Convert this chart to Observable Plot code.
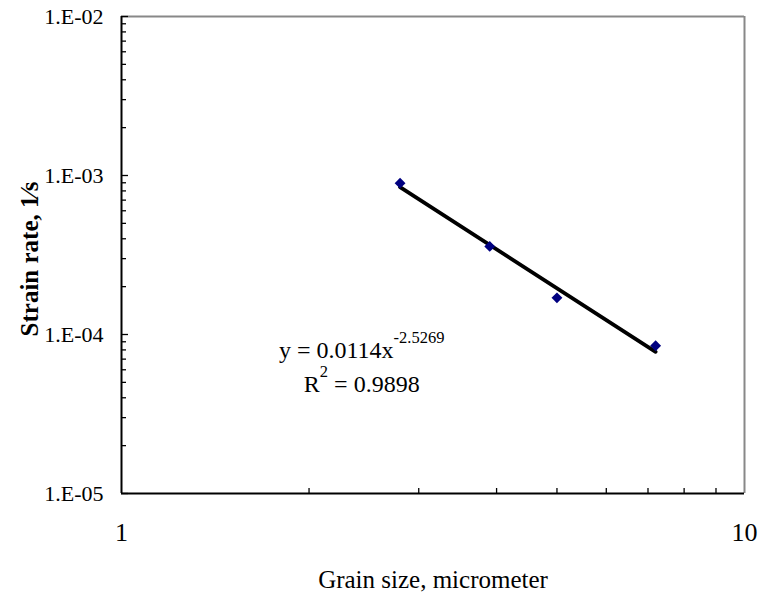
<!DOCTYPE html>
<html><head><meta charset="utf-8">
<script src="https://cdn.jsdelivr.net/npm/d3@7"></script>
<script src="https://cdn.jsdelivr.net/npm/@observablehq/plot@0.6"></script>
<style>body{margin:0;background:#fff}</style>
</head><body><div id="chart"></div>
<script>
const grainSize = [2.8, 3.9, 5.0, 7.2];
const strainRate = [8.95e-4, 3.58e-4, 1.70e-4, 8.5e-5];
const trendX = [2.8, 7.2];
const trendY = [8.45e-4, 7.78e-5];
const xDomain = [1, 10];
const yDomain = [1e-5, 1e-2];
const xTickValues = [1, 10];
const xTickLabels = ["1", "10"];
const yTickValues = [1e-5, 1e-4, 1e-3, 1e-2];
const yTickLabels = ["1.E-05", "1.E-04", "1.E-03", "1.E-02"];
const xMinor = [2, 3, 4, 5, 6, 7, 8, 9];
const yMinor = [2e-5, 3e-5, 4e-5, 5e-5, 6e-5, 7e-5, 8e-5, 9e-5,
                2e-4, 3e-4, 4e-4, 5e-4, 6e-4, 7e-4, 8e-4, 9e-4,
                2e-3, 3e-3, 4e-3, 5e-3, 6e-3, 7e-3, 8e-3, 9e-3];
const xTitle = "Grain size, micrometer";
const yTitle = "Strain rate, 1\u2044s";
const fitLabelX = [2.43, 2.43];
const fitLabelY = [8.0e-5, 4.83e-5];
const fitLabelText = ["y = 0.0114x^-2.5269", "R^2 = 0.9898"];

const W = 760, H = 593, mT = 16, mL = 121, mR = 16, mB = 100;
const iW = W - mL - mR, iH = H - mT - mB;

const points = grainSize.map((x, i) => ({x, y: strainRate[i]}));
const trend = trendX.map((x, i) => ({x, y: trendY[i]}));
const fitLabels = fitLabelText.map((t, i) => ({x: fitLabelX[i], y: fitLabelY[i], t}));

const font = "'Liberation Serif', 'Times New Roman', serif";

const chart = Plot.plot({
  width: W, height: H,
  marginTop: mT, marginLeft: mL, marginRight: mR, marginBottom: mB,
  style: {fontFamily: font, fontSize: "20px", color: "black", background: "white", overflow: "visible"},
  x: {type: "log", domain: xDomain},
  y: {type: "log", domain: yDomain},
  marks: [
    Plot.ruleY([yDomain[1]], {stroke: "#888", strokeWidth: 2}),
    Plot.ruleX([xDomain[1]], {stroke: "#888", strokeWidth: 2}),
    Plot.tickX(xMinor, {x: d => d, stroke: "black", strokeWidth: 1.3, insetTop: iH - 5}),
    Plot.tickY(yMinor, {y: d => d, stroke: "black", strokeWidth: 1.3, insetRight: iW - 5}),
    Plot.tickY(yTickValues, {y: d => d, stroke: "black", strokeWidth: 1.3, insetRight: iW - 7}),
    Plot.ruleX([xDomain[0]], {stroke: "black", strokeWidth: 2}),
    Plot.ruleY([yDomain[0]], {stroke: "black", strokeWidth: 2}),
    Plot.line(trend, {x: "x", y: "y", stroke: "black", strokeWidth: 3.8}),
    Plot.dot(points, {x: "x", y: "y", symbol: "diamond2", r: 4.9, fill: "#000080", stroke: "none"}),
    Plot.axisX(xTickValues, {tickSize: 0, tickPadding: 29, label: null, fontSize: 26,
      tickFormat: d => xTickLabels[xTickValues.indexOf(d)]}),
    Plot.axisY(yTickValues, {tickSize: 0, tickPadding: 18, label: null, fontSize: 22,
      tickFormat: d => yTickLabels[yTickValues.findIndex(v => Math.abs(v - d) / v < 1e-6)]}),
    Plot.text(fitLabels, {x: "x", y: "y", text: "t", textAnchor: "middle", lineAnchor: "middle", fontSize: 24, fill: "black"}),
    Plot.text([xTitle], {frameAnchor: "bottom", dy: 86, textAnchor: "middle", lineAnchor: "middle", fontSize: 25, fill: "black"}),
    Plot.text([yTitle], {frameAnchor: "left", dx: -92, dy: 4, rotate: -90, textAnchor: "middle", lineAnchor: "middle", fontSize: 25, fontWeight: "bold", fill: "black"})
  ]
});

// superscripts
d3.select(chart).selectAll("text").each(function() {
  const el = this;
  if (el.querySelector("tspan")) return;
  const s = el.textContent;
  if (s.includes("^")) {
    const [base, sup] = s.split("^");
    let rest = "";
    let supPart = sup;
    const m = sup.match(/^(\S+)(.*)$/);
    if (m) { supPart = m[1]; rest = m[2]; }
    el.textContent = "";
    const sel = d3.select(el);
    sel.append("tspan").text(base);
    sel.append("tspan").attr("dy", "-15").attr("font-size", "16.5px").text(supPart);
    if (rest) sel.append("tspan").attr("dy", "15").text(rest);
  }
});

document.getElementById("chart").appendChild(chart);
</script>
</body></html>
